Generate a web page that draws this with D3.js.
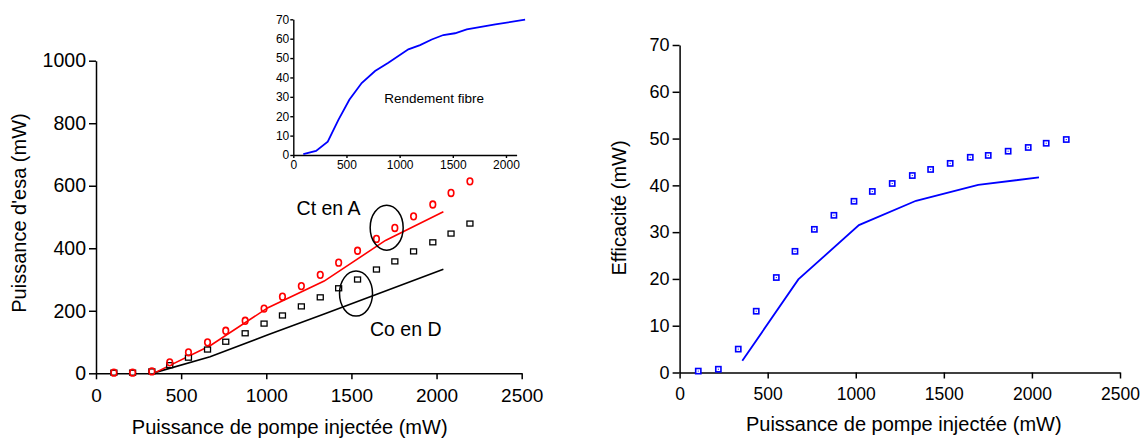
<!DOCTYPE html>
<html><head><meta charset="utf-8">
<script src="https://cdn.jsdelivr.net/npm/d3@7/dist/d3.min.js"></script>
<style>
body{margin:0;background:#fff;}
svg{display:block;font-family:"Liberation Sans",Arial,sans-serif;}
</style></head>
<body>
<svg id="c" width="1144" height="439"></svg>
<script>
// ---- data ----
const pump = [105, 215, 328, 433, 543, 655, 762, 876, 987, 1095, 1206, 1317, 1425, 1536, 1647, 1755, 1865, 1978, 2085, 2196];
const esaCt = [2, 2, 6, 35, 67, 99, 136, 168, 207, 245, 279, 315, 354, 392, 430, 465, 502, 540, 577, 614];
const esaCo = [2, 2, 6, 26, 50, 76, 101, 128, 159, 185, 214, 243, 272, 300, 332, 358, 390, 419, 447, 479];
const modelX = [350, 670, 1010, 1340, 1700, 2040];
const ctModel = [3, 88, 210, 295, 425, 517];
const coModel = [3, 53, 123, 190, 263, 333];
const rendX = [94, 214, 324, 423, 527, 643, 769, 894, 1082, 1192, 1302, 1411, 1521, 1631, 1900, 2180];
const rendY = [0.5, 2.1, 6.9, 18, 28.5, 37.1, 43.3, 47.6, 54.5, 56.7, 59.6, 61.9, 62.8, 64.8, 67.4, 69.8];
const effPump = [106, 220, 333, 435, 549, 655, 765, 876, 990, 1094, 1207, 1321, 1425, 1536, 1650, 1752, 1865, 1979, 2081, 2195];
const effMeas = [0.3, 0.7, 5.0, 13.1, 20.3, 25.9, 30.6, 33.6, 36.6, 38.7, 40.4, 42.1, 43.4, 44.7, 46.0, 46.4, 47.3, 48.1, 49.0, 49.8];
const effModelX = [356, 674, 1018, 1342, 1695, 2040];
const effModel = [2.5, 19.9, 31.5, 36.7, 40.1, 41.7];
const xTicks = [0, 500, 1000, 1500, 2000, 2500];
const yTicksL = [0, 200, 400, 600, 800, 1000];
const yTicksR = [0, 10, 20, 30, 40, 50, 60, 70];
const insetXTicks = [0, 500, 1000, 1500, 2000];
const insetYTicks = [0, 10, 20, 30, 40, 50, 60, 70];
const xTitle = "Puissance de pompe injectée (mW)";
const yTitleL = "Puissance d'esa (mW)";
const yTitleR = "Efficacité (mW)";
const insetLabel = "Rendement fibre";
const annots = [{t: "Ct en A", x: 1178, y: 505}, {t: "Co en D", x: 1609, y: 120}];
const rings = [{x: 1707, y: 466}, {x: 1527, y: 255}];

const svg = d3.select("#c");

function styleAxis(g, fs, sw) {
  g.selectAll("path.domain").attr("stroke", "#000").attr("stroke-width", sw);
  g.selectAll(".tick line").attr("stroke", "#000").attr("stroke-width", sw);
  g.selectAll(".tick text").attr("fill", "#000").style("font-size", fs + "px")
    .style("font-family", '"Liberation Sans",Arial,sans-serif');
}

// ---- left main chart ----
const xL = d3.scaleLinear().domain([0, 2500]).range([96, 521.7]);
const yL = d3.scaleLinear().domain([0, 1000]).range([373.3, 60.7]);

const gxL = svg.append("g").attr("transform", `translate(0,${yL(0)})`)
  .call(d3.axisBottom(xL).tickValues(xTicks).tickSize(6).tickSizeOuter(0).tickPadding(9).tickFormat(d3.format("d")));
styleAxis(gxL, 19, 1.5);
const gyL = svg.append("g").attr("transform", `translate(${xL(0)},0)`)
  .call(d3.axisLeft(yL).tickValues(yTicksL).tickSize(7).tickSizeOuter(0).tickPadding(3).tickFormat(d3.format("d")));
styleAxis(gyL, 19.5, 1.5);

svg.append("text").attr("x", 289.7).attr("y", 434).attr("text-anchor", "middle")
  .style("font-size", "20px").text(xTitle);
svg.append("text").attr("transform", "translate(19,213) rotate(-90)").attr("dy", "0.35em")
  .attr("text-anchor", "middle").style("font-size", "20px").text(yTitleL);

const line = d3.line();
svg.append("path").attr("fill", "none").attr("stroke", "#000").attr("stroke-width", 1.6)
  .attr("d", line(modelX.map((d, i) => [xL(d), yL(coModel[i])])));
svg.append("path").attr("fill", "none").attr("stroke", "#ff0000").attr("stroke-width", 1.6)
  .attr("d", line(modelX.map((d, i) => [xL(d), yL(ctModel[i])])));

svg.append("g").selectAll("rect").data(pump).join("rect")
  .attr("x", d => xL(d) - 3).attr("y", (d, i) => yL(esaCo[i]) - 2.5)
  .attr("width", 6).attr("height", 5).attr("fill", "#fff").attr("stroke", "#000").attr("stroke-width", 1.3);
svg.append("g").selectAll("ellipse").data(pump).join("ellipse")
  .attr("cx", d => xL(d)).attr("cy", (d, i) => yL(esaCt[i]))
  .attr("rx", 2.8).attr("ry", 3.4).attr("fill", "none").attr("stroke", "#ff0000").attr("stroke-width", 1.6);

svg.append("g").selectAll("ellipse").data(rings).join("ellipse")
  .attr("cx", d => xL(d.x)).attr("cy", d => yL(d.y)).attr("rx", 16.5).attr("ry", 22.5)
  .attr("fill", "none").attr("stroke", "#000").attr("stroke-width", 1.5);
svg.append("g").selectAll("text").data(annots).join("text")
  .attr("x", d => xL(d.x)).attr("y", d => yL(d.y)).style("font-size", "19.5px").text(d => d.t);

// ---- inset ----
const xI = d3.scaleLinear().domain([0, 2100]).range([293.3, 516.6]);
const yI = d3.scaleLinear().domain([0, 70]).range([155, 19.3]);
const gxI = svg.append("g").attr("transform", `translate(0,${yI(0)})`)
  .call(d3.axisBottom(xI).tickValues(insetXTicks).tickSize(3).tickSizeOuter(0).tickPadding(2).tickFormat(d3.format("d")));
styleAxis(gxI, 12, 1.4);
const gyI = svg.append("g").attr("transform", `translate(${xI(0)},0)`)
  .call(d3.axisLeft(yI).tickValues(insetYTicks).tickSize(3).tickSizeOuter(0).tickPadding(1).tickFormat(d3.format("d")));
styleAxis(gyI, 12, 1.4);
svg.append("path").attr("fill", "none").attr("stroke", "#0000ff").attr("stroke-width", 1.8)
  .attr("d", d3.line()(rendX.map((d, i) => [xI(d), yI(rendY[i])])));
svg.append("text").attr("x", xI(856)).attr("y", yI(27)).style("font-size", "13.5px").text(insetLabel);

// ---- right chart ----
const xR = d3.scaleLinear().domain([0, 2500]).range([679.6, 1120]);
const yR = d3.scaleLinear().domain([0, 70]).range([372.5, 45]);
const gxR = svg.append("g").attr("transform", `translate(0,${yR(0)})`)
  .call(d3.axisBottom(xR).tickValues(xTicks).tickSize(6).tickSizeOuter(0).tickPadding(9).tickFormat(d3.format("d")));
styleAxis(gxR, 17.5, 1.5);
const gyR = svg.append("g").attr("transform", `translate(${xR(0)},0)`)
  .call(d3.axisLeft(yR).tickValues(yTicksR).tickSize(7).tickSizeOuter(0).tickPadding(3).tickFormat(d3.format("d")));
styleAxis(gyR, 18, 1.5);

svg.append("text").attr("x", 903.8).attr("y", 431).attr("text-anchor", "middle")
  .style("font-size", "20px").text(xTitle);
svg.append("text").attr("transform", "translate(619,208) rotate(-90)").attr("dy", "0.35em")
  .attr("text-anchor", "middle").style("font-size", "20px").text(yTitleR);

svg.append("path").attr("fill", "none").attr("stroke", "#0000ff").attr("stroke-width", 1.8)
  .attr("d", line(effModelX.map((d, i) => [xR(d), yR(effModel[i])])));
const mk = svg.append("g").selectAll("g").data(effPump).join("g")
  .attr("transform", (d, i) => `translate(${xR(d)},${yR(effMeas[i])})`);
mk.append("rect").attr("x", -2.6).attr("y", -2.6).attr("width", 5.2).attr("height", 5.2)
  .attr("fill", "#fff").attr("stroke", "#0000ff").attr("stroke-width", 1.6);
mk.append("rect").attr("x", -0.5).attr("y", -0.5).attr("width", 1).attr("height", 1).attr("fill", "#0000ff");
</script>
</body></html>
